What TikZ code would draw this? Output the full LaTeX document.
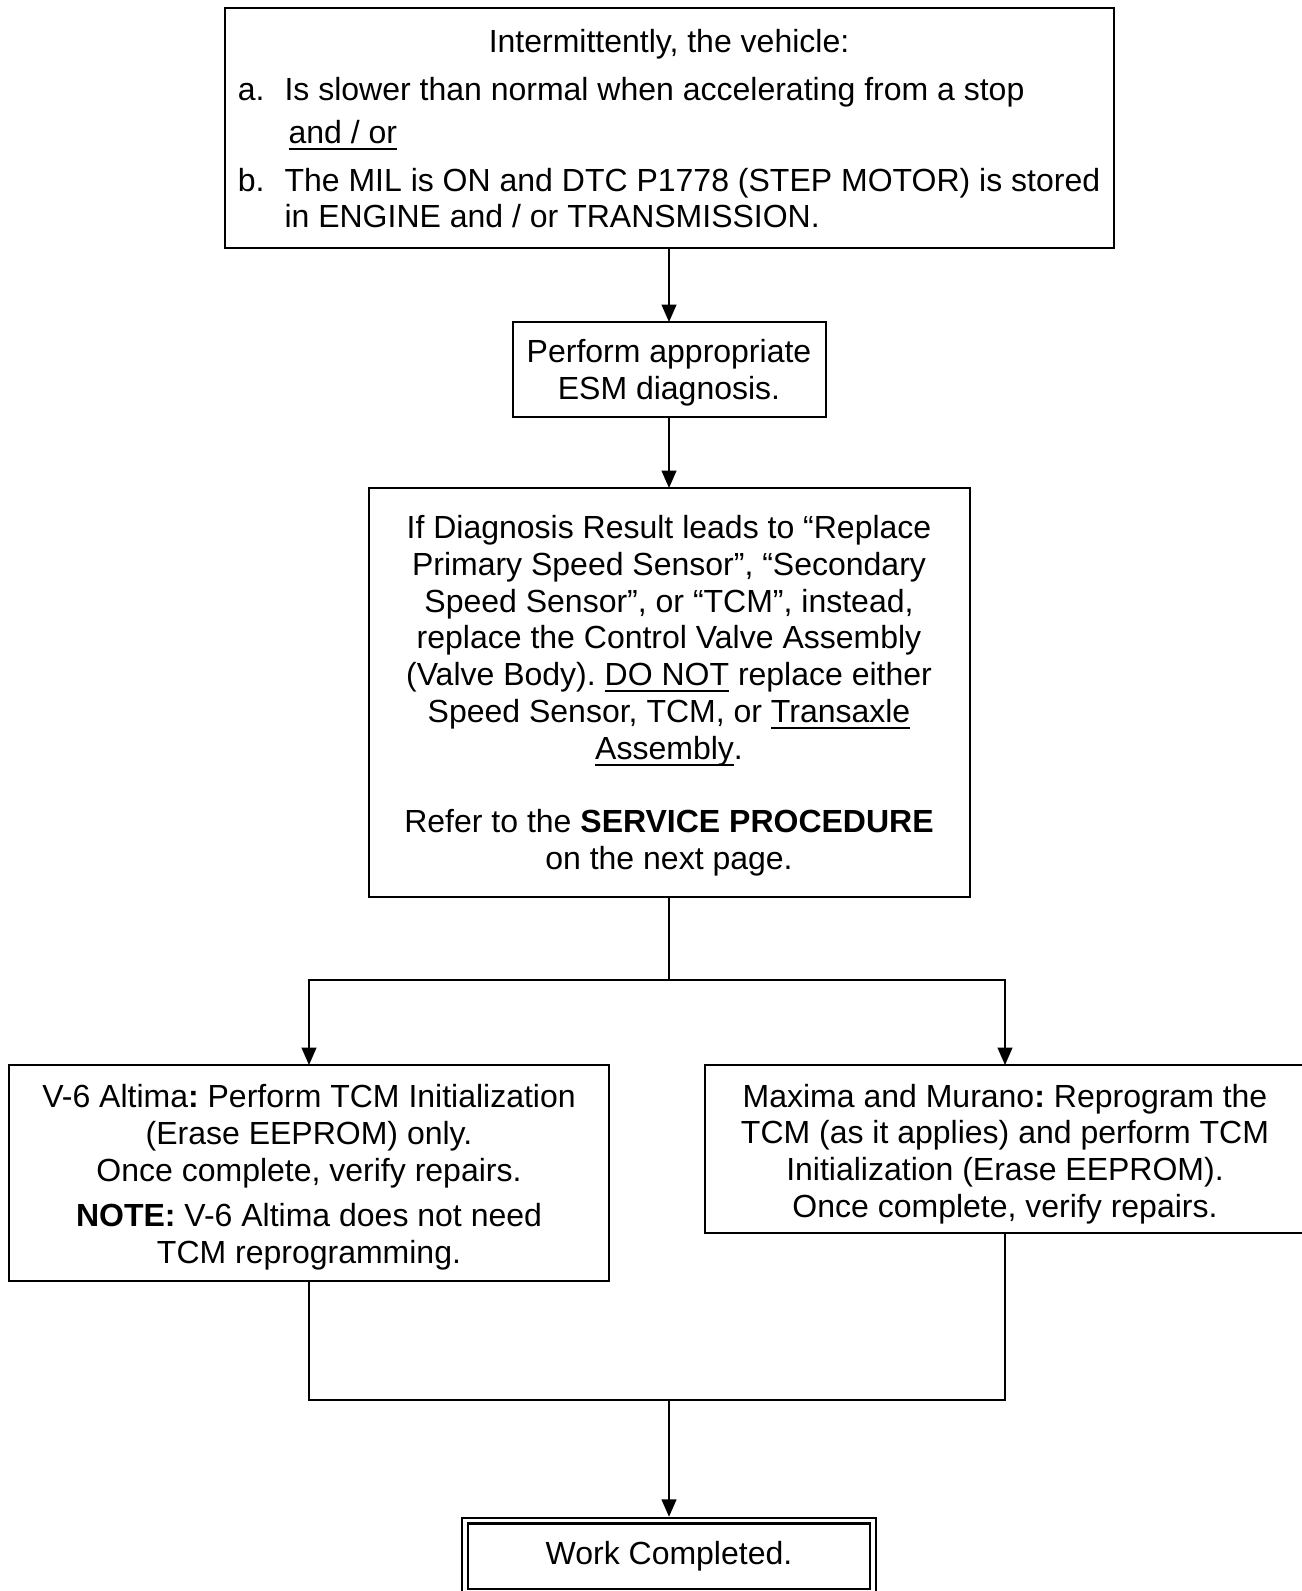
\documentclass[tikz,border=0pt]{standalone}
\usepackage{fontspec}
\setmainfont{Liberation Sans}
\usetikzlibrary{arrows.meta}
\frenchspacing
\newcommand\ulx[1]{\setbox0\hbox{#1}\rlap{\rule[-0.2em]{\wd0}{0.07em}}\box0}
\newcommand\tsp[1]{\rule{0pt}{#1}}
\begin{document}
\begin{tikzpicture}[x=0.75pt,y=-0.75pt,
  every node/.style={font=\fontsize{24pt}{27.6pt}\selectfont\frenchspacing},
  box/.style={draw,line width=1.5pt,rectangle,inner sep=0pt,outer sep=0pt,align=center},
  wire/.style={line width=1.5pt},
  arr/.style={line width=1.5pt,-{Triangle[length=13pt,width=11pt]}}]
\useasboundingbox (0,0) rectangle (1302,1591);
\fill[white] (0,0) rectangle (1302,1591);
\clip (0,0) rectangle (1302,1591);

\node[box,minimum width=666.75pt,minimum height=180pt] (top) at (669,128) {%
\begin{tabular}{@{}p{35pt}@{}l@{}}
\multicolumn{2}{c}{\tsp{26.2pt}Intermittently, the vehicle:}\\[8.9pt]
a. & Is slower than normal when accelerating from a stop\\[4.4pt]
 & \hspace{3pt}\ulx{and / or}\\[8.2pt]
b. & The MIL is ON and DTC P1778 (STEP MOTOR) is stored\\
 & in ENGINE and / or TRANSMISSION.
\end{tabular}};

\node[box,minimum width=234.75pt,minimum height=71.25pt] (esm) at (669,369.5)
  {\tsp{22pt}Perform appropriate\\ESM diagnosis.};

\node[box,minimum width=450.75pt,minimum height=306.75pt] (big) at (669,692.5)
  {\tsp{22.5pt}If Diagnosis Result leads to “Replace\\
   Primary Speed Sensor”, “Secondary\\
   Speed Sensor”, or “TCM”, instead,\\
   replace the Control Valve Assembly\\
   (Valve Body). \ulx{DO NOT}\ replace either\\
   Speed Sensor, TCM, or \ulx{Transaxle}\\
   \ulx{Assembly}.\\[27.6pt]
   Refer to the \textbf{SERVICE PROCEDURE}\\
   on the next page.};

\node[box,minimum width=450pt,minimum height=162pt] (left) at (309,1173)
  {\tsp{24pt}V-6 Altima\textbf{:} Perform TCM Initialization\\
   (Erase EEPROM) only.\\
   Once complete, verify repairs.\\[6.7pt]
   \textbf{NOTE:} V-6 Altima does not need\\
   TCM reprogramming.};

\node[box,minimum width=450pt,minimum height=126pt] (right) at (1005,1149)
  {\tsp{25pt}Maxima and Murano\textbf{:} Reprogram the\\
   TCM (as it applies) and perform TCM\\
   Initialization (Erase EEPROM).\\
   Once complete, verify repairs.};

\node[draw,line width=1.7pt,double,double distance=2.5pt,rectangle,inner sep=0pt,outer sep=0pt,
  minimum width=306pt,minimum height=53.5pt,text height=16pt,text depth=3pt] (work) at (669,1556.3)
  {Work Completed.};

\coordinate (j1) at (669,980);
\coordinate (j2) at (669,1400);

\draw[arr] (top.south) -- (esm.north);
\draw[arr] (esm.south) -- (big.north);
\draw[wire] (big.south) -- (j1);
\draw[arr] (j1) -| (left.north);
\draw[arr] (j1) -| (right.north);
\draw[wire] (left.south) |- (j2) -| (right.south);
\draw[arr,shorten >=2.9pt] (j2) -- (work.north);
\end{tikzpicture}
\end{document}
